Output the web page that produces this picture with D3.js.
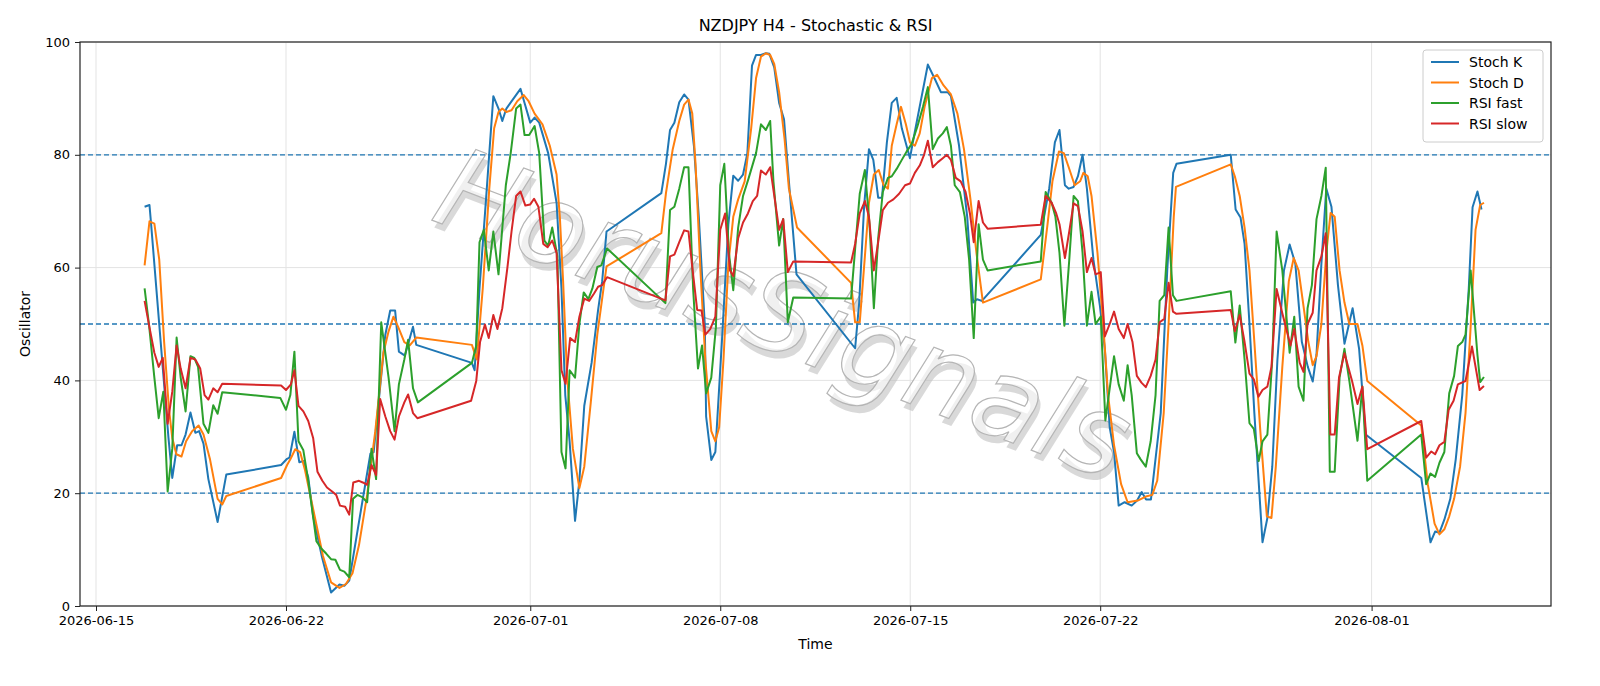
<!DOCTYPE html>
<html><head><meta charset="utf-8">
<script src="https://cdn.jsdelivr.net/npm/d3@7"></script>
<style>body{margin:0;background:#fff}svg{font-family:"DejaVu Sans",sans-serif}</style>
</head><body><svg id="c" width="1600" height="686"></svg>
<script>
// [days since 2026-06-15 00:00 UTC, value]
const stochK = [[1.79,70.8],[1.97,71.1],[2.03,67.7],[2.67,29.8],[2.81,22.7],[2.99,28.5],[3.15,28.5],[3.30,30.4],[3.48,34.3],[3.66,30.7],[3.80,31.0],[3.96,28.8],[4.14,22.5],[4.48,14.9],[4.80,23.3],[6.82,25.0],[7.04,26.1],[7.13,26.3],[7.31,30.9],[7.49,25.5],[7.64,25.7],[7.82,22.8],[8.00,15.9],[8.33,8.6],[8.66,2.4],[8.97,3.8],[9.15,3.6],[9.33,4.5],[9.81,18.4],[10.11,27.0],[10.23,27.3],[10.66,48.1],[10.84,52.4],[11.02,52.4],[11.16,45.1],[11.38,44.4],[11.68,49.5],[11.80,46.3],[13.85,43.1],[13.95,41.8],[14.13,56.3],[14.37,72.1],[14.64,90.4],[14.83,88.2],[14.97,86],[15.12,88.2],[15.64,91.7],[15.79,89.2],[16.0,85.7],[16.16,86.6],[16.33,85.7],[16.66,80.3],[16.97,71.5],[17.15,56.3],[17.29,37.4],[17.45,29.2],[17.65,15.1],[17.81,22.2],[17.99,35.5],[18.26,43.1],[18.50,52.5],[18.65,57.6],[18.81,66.4],[20.83,73.2],[21.0,78.4],[21.15,84.4],[21.31,85.7],[21.49,89.3],[21.67,90.7],[21.83,89.8],[22.03,81.6],[22.21,69],[22.43,50],[22.48,33.6],[22.67,25.9],[22.82,27.3],[23.06,46.8],[23.30,67.7],[23.48,76.3],[23.66,75.4],[23.84,76.5],[24.0,80.3],[24.17,95.8],[24.32,97.7],[24.50,97.7],[24.68,98],[24.81,97.9],[24.99,95.5],[25.17,89.2],[25.35,86.3],[25.53,75.3],[25.81,58.8],[27.97,45.7],[28.12,53.8],[28.30,70.8],[28.48,81],[28.64,79.1],[28.82,72.4],[28.96,72.4],[29.14,82.2],[29.32,89.2],[29.50,90.1],[29.69,84.7],[29.99,79.4],[30.17,84.1],[30.65,96],[30.92,93.3],[31.13,91.1],[31.38,91.1],[31.50,90.4],[31.80,81.6],[32.10,69],[32.32,53.8],[32.46,54.4],[32.64,54.1],[34.81,65.8],[35.12,74],[35.33,82.2],[35.50,84.4],[35.70,74.6],[35.84,74],[36.02,74.3],[36.18,76.2],[36.35,80],[36.51,74],[36.75,61.4],[36.99,53.2],[37.17,45.6],[37.35,31.7],[37.51,27.3],[37.68,17.8],[37.90,18.4],[38.16,17.8],[38.36,18.7],[38.53,20.2],[38.69,18.9],[38.87,18.9],[39.23,34.2],[39.47,59.5],[39.69,76.8],[39.81,78.4],[41.81,80],[41.99,70.3],[42.17,68.9],[42.32,64.2],[42.50,50],[42.68,34.2],[42.98,11.3],[43.16,15.6],[43.34,24.7],[43.53,43.7],[43.77,59.5],[43.98,64.1],[44.19,60.7],[44.43,46.8],[44.65,42.4],[44.83,39.8],[44.97,44.6],[45.15,60.7],[45.33,74],[45.52,70.8],[45.76,56.9],[46.0,46.5],[46.30,52.8],[46.54,45.6],[46.78,30.4],[48.83,22.7],[49.17,11.3],[49.34,13.2],[49.50,13],[49.68,15.3],[49.90,19],[50.10,26],[50.34,37.4],[50.58,56.3],[50.72,70.7],[50.9,73.5],[51.05,70.3]];
const stochD = [[1.79,60.4],[1.97,68.2],[2.15,67.8],[2.33,61.4],[2.51,46.8],[2.69,34.8],[2.81,29.8],[2.96,26.9],[3.15,26.5],[3.32,29.2],[3.54,31],[3.78,32],[3.96,30.4],[4.20,26],[4.48,19],[4.65,18],[4.80,19.5],[6.82,22.7],[7.04,25],[7.16,26],[7.34,27.8],[7.52,27.3],[7.70,24.1],[8.0,17.2],[8.36,8.9],[8.66,4.2],[8.97,3.2],[9.21,3.9],[9.45,5.8],[9.69,10.8],[9.99,19.7],[10.29,31],[10.59,44.9],[10.78,48.7],[10.96,51.3],[11.14,49.4],[11.36,46.8],[11.56,46.2],[11.80,47.6],[13.85,46.3],[14.03,43.7],[14.25,56.3],[14.49,74],[14.67,84.7],[14.83,87.6],[14.97,88.2],[15.12,87.6],[15.31,87.9],[15.52,89.5],[15.76,90.6],[15.94,89.5],[16.16,87.3],[16.45,85.4],[16.72,81.6],[16.97,76.5],[17.09,69],[17.21,57.6],[17.36,40.5],[17.57,27.9],[17.81,20.9],[17.99,24.7],[18.23,36.1],[18.47,48.1],[18.81,60.2],[20.83,66.1],[21.0,73.2],[21.25,81],[21.49,86],[21.67,88.9],[21.83,89.8],[21.97,87.3],[22.09,78.4],[22.27,59.5],[22.45,43.7],[22.67,31],[22.82,29.2],[22.96,31.7],[23.12,43.7],[23.30,60.7],[23.48,69],[23.66,72.1],[23.90,75.3],[24.14,84.7],[24.32,93.6],[24.50,97.4],[24.68,98],[24.84,97.7],[24.99,96.1],[25.17,91.1],[25.37,82.8],[25.53,74],[25.83,67.1],[27.82,57.3],[27.97,50.3],[28.14,50.3],[28.33,62],[28.48,71.5],[28.66,76.5],[28.84,77.3],[29.02,74.6],[29.18,74],[29.32,81.6],[29.50,85.4],[29.66,88.5],[29.84,85.4],[29.99,82.2],[30.17,81.6],[30.35,83.8],[30.53,88.5],[30.80,93.6],[30.99,94.2],[31.23,92.3],[31.50,90.7],[31.74,87.3],[31.98,81],[32.22,72.1],[32.44,62.6],[32.68,53.8],[34.81,57.9],[35.06,67.7],[35.24,75.3],[35.48,80.6],[35.66,80.3],[35.84,77.8],[36.06,74.6],[36.26,75.3],[36.38,76.8],[36.54,76.2],[36.68,72.7],[36.90,62.6],[37.11,50],[37.29,37.4],[37.51,28.5],[37.77,21.6],[38.01,18.4],[38.38,18.7],[38.68,19.4],[38.92,19.7],[39.10,22.2],[39.34,34.2],[39.52,50],[39.71,69],[39.79,74.3],[41.81,78.3],[41.96,76.2],[42.14,72.7],[42.32,67.1],[42.50,59.5],[42.68,46.8],[42.90,31],[43.14,15.9],[43.31,15.6],[43.47,24.7],[43.71,42.4],[43.95,57.6],[44.13,61.7],[44.31,59.5],[44.49,53.2],[44.67,46.8],[44.83,42.7],[44.97,44.3],[45.15,50],[45.33,62.6],[45.49,69.7],[45.64,69],[45.82,59.5],[46.0,53.8],[46.18,50],[46.48,50],[46.66,46.2],[46.84,39.9],[48.83,32],[49.07,21.6],[49.32,14.6],[49.50,12.7],[49.68,13.6],[49.86,15.9],[50.04,19],[50.26,24.7],[50.46,34.2],[50.64,48.7],[50.83,66.7],[51.0,71.1],[51.14,71.5]];
const rsiFast = [[1.79,56.3],[1.95,50],[2.15,40.5],[2.31,33.3],[2.48,38],[2.64,20.3],[2.81,27.9],[2.97,47.6],[3.12,40.5],[3.30,34.5],[3.48,44.3],[3.62,44],[3.76,42.4],[3.96,32.3],[4.14,30.7],[4.32,35.6],[4.48,34.1],[4.65,37.9],[6.79,36.9],[7.0,34.8],[7.16,37.4],[7.31,45.1],[7.46,29.2],[7.64,27.6],[7.82,22.2],[8.12,11.5],[8.30,10.2],[8.48,9.3],[8.66,8.3],[8.82,8.2],[8.99,6.4],[9.15,6.1],[9.33,5.1],[9.47,19],[9.63,19.7],[9.81,19.3],[9.99,18.4],[10.15,27.9],[10.32,22.5],[10.51,50.3],[10.78,40.5],[11.0,31],[11.16,39.3],[11.36,43.7],[11.50,47.2],[11.68,38.6],[11.86,36.1],[13.85,43.1],[14.01,46.2],[14.13,64.5],[14.29,66.7],[14.47,59.5],[14.64,66.4],[14.83,58.8],[15.10,74.6],[15.28,80.3],[15.48,88.2],[15.64,88.9],[15.79,83.5],[15.96,83.5],[16.16,85.1],[16.33,80.3],[16.52,64.8],[16.66,63.9],[16.81,67.1],[17.0,62],[17.15,27.3],[17.30,24.4],[17.45,41.8],[17.65,40.5],[17.81,50],[17.97,55.6],[18.14,54.4],[18.29,56.3],[18.47,60.1],[18.62,60.4],[18.83,63.4],[20.98,53.7],[21.15,70.2],[21.31,70.8],[21.49,74],[21.67,77.8],[21.83,77.8],[22.0,56.3],[22.18,42.1],[22.33,46.2],[22.48,37.7],[22.67,40.5],[22.84,49.4],[23.0,74.6],[23.15,78.4],[23.32,62.6],[23.48,56],[23.66,67.1],[23.84,72.7],[24.05,75.9],[24.32,80.3],[24.50,85.4],[24.68,84.4],[24.84,86],[24.96,75.3],[25.17,63.9],[25.32,68.6],[25.49,50.3],[25.69,54.7],[27.82,54.5],[27.97,63.3],[28.14,73.1],[28.33,77.3],[28.50,67.7],[28.66,52.8],[28.82,65.2],[28.99,73.4],[29.18,75.9],[29.32,76.2],[29.50,77.5],[29.69,79.1],[29.87,80.6],[30.05,81.9],[30.27,85.1],[30.47,88.5],[30.65,92],[30.83,81],[31.02,82.9],[31.20,83.8],[31.35,84.9],[31.50,81.6],[31.64,74.6],[31.83,73.4],[32.01,69],[32.17,61.4],[32.34,47.5],[32.52,67.7],[32.68,61.4],[32.85,59.5],[34.81,61.1],[34.99,73.4],[35.21,71.5],[35.35,69],[35.50,62.6],[35.68,49.7],[35.86,61.4],[36.02,72.7],[36.18,71.8],[36.35,62.6],[36.51,49.7],[36.68,55.7],[36.83,50],[37.02,51.3],[37.19,32.9],[37.35,38.6],[37.51,44.3],[37.68,39.3],[37.87,36.4],[38.01,42.7],[38.16,37.4],[38.35,27.1],[38.49,26],[38.68,24.7],[38.86,29.2],[39.04,37.4],[39.19,54.1],[39.36,55.1],[39.52,67.1],[39.68,55.1],[39.81,54.1],[41.81,55.8],[41.98,46.7],[42.14,53.3],[42.32,43.7],[42.50,32.4],[42.66,31.4],[42.84,25.7],[42.98,29.2],[43.16,30.4],[43.34,43.7],[43.50,66.4],[43.71,59.5],[43.98,44.9],[44.15,51.3],[44.31,38.9],[44.49,36.4],[44.64,52.8],[44.80,56.9],[44.97,68.6],[45.15,72.7],[45.31,77.7],[45.46,23.8],[45.64,23.8],[45.82,40.5],[46.0,45.6],[46.18,39.9],[46.48,29.3],[46.66,38.9],[46.84,22.2],[48.83,30.4],[49.01,21.6],[49.17,23.5],[49.34,22.9],[49.50,25.4],[49.68,27.3],[49.86,37.7],[50.04,40.8],[50.18,46.1],[50.34,46.8],[50.46,48.1],[50.65,59.5],[50.9,44.5],[51.0,39.7],[51.14,40.6]];
const rsiSlow = [[1.79,54.1],[1.97,49.4],[2.15,44.9],[2.31,42.4],[2.46,44],[2.64,32.3],[2.81,38],[2.97,46.2],[3.12,42.1],[3.30,38.6],[3.48,44],[3.66,43.7],[3.84,42.1],[4.0,37.4],[4.14,36.6],[4.32,38.6],[4.48,37.9],[4.65,39.4],[6.82,39.1],[7.0,38.3],[7.18,39.3],[7.31,41.8],[7.46,35.5],[7.64,34.5],[7.82,32.8],[8.0,29.8],[8.16,23.8],[8.34,22.2],[8.51,21],[8.70,20.3],[8.85,19.7],[8.99,17.8],[9.18,17.6],[9.33,16.2],[9.48,21.9],[9.69,22.2],[9.83,21.9],[9.99,21.5],[10.15,25],[10.32,23.2],[10.47,36.7],[10.66,33.6],[10.84,31],[11.0,29.5],[11.16,33.6],[11.36,36.1],[11.50,37.5],[11.68,34.2],[11.84,33.3],[13.82,36.4],[14.01,39.9],[14.15,46.8],[14.33,49.9],[14.47,47.5],[14.64,51.6],[14.79,49.1],[14.97,52.8],[15.16,60.1],[15.31,66.4],[15.48,72.7],[15.64,73.5],[15.82,71],[16.0,71.2],[16.14,72.2],[16.30,70.8],[16.48,64.2],[16.64,63.6],[16.81,64.8],[16.97,62.6],[17.15,41.8],[17.30,39.4],[17.47,47.5],[17.65,46.8],[17.81,51.3],[17.99,54.5],[18.17,54.1],[18.35,55.4],[18.50,56.6],[18.65,56.9],[18.83,58.3],[20.98,54.2],[21.15,62],[21.31,62.3],[21.49,64.5],[21.67,66.6],[21.83,66.4],[21.97,60.1],[22.15,52.5],[22.31,52.4],[22.45,48.1],[22.63,49.1],[22.82,51.3],[23.0,66.7],[23.18,69.6],[23.36,59.5],[23.48,58.5],[23.66,65.2],[23.84,68],[24.02,69.6],[24.20,71.8],[24.36,72.7],[24.50,77.2],[24.68,76.5],[24.84,77.8],[25.01,72.1],[25.17,66.7],[25.32,68.6],[25.49,59.2],[25.69,61.1],[27.82,60.9],[27.97,64.2],[28.14,69.6],[28.33,71.8],[28.48,69],[28.66,59.5],[28.82,64.5],[28.99,70.2],[29.18,71.5],[29.38,72.1],[29.59,73.1],[29.81,74.6],[29.99,74.9],[30.17,76.8],[30.35,78.1],[30.51,80],[30.65,82.5],[30.83,77.8],[31.02,78.7],[31.20,79.4],[31.35,80],[31.50,79.1],[31.68,75.9],[31.86,75.3],[32.04,73.4],[32.20,69.6],[32.34,64.5],[32.52,71.8],[32.68,68],[32.85,66.9],[34.81,67.6],[34.99,72.7],[35.21,71.5],[35.38,69.6],[35.50,67.7],[35.70,61.7],[35.86,66.4],[36.02,71.4],[36.18,70.9],[36.35,66.4],[36.51,59.2],[36.68,61.7],[36.83,58.8],[37.02,59.2],[37.17,47.8],[37.35,50],[37.51,52.2],[37.68,49.1],[37.87,47.5],[38.01,50],[38.19,46.8],[38.35,40.8],[38.52,39.6],[38.68,38.8],[38.86,40.8],[39.04,43.7],[39.19,50.3],[39.36,50.9],[39.52,57.3],[39.68,52.2],[39.81,51.8],[41.81,52.5],[41.96,48.7],[42.14,51.6],[42.32,46.8],[42.50,41.2],[42.66,40.2],[42.83,37.1],[42.98,38.3],[43.16,38.9],[43.31,42.4],[43.50,56.2],[43.71,51.9],[44.01,46.2],[44.15,49.1],[44.35,43.1],[44.49,41.5],[44.64,50],[44.83,52],[44.97,59.5],[45.15,62],[45.31,66.1],[45.48,30.4],[45.64,30.4],[45.80,40.5],[46.0,44.8],[46.28,39.9],[46.48,35.8],[46.66,38.9],[46.84,27.8],[48.83,32.8],[49.01,26.3],[49.20,27.4],[49.34,26.9],[49.50,28.5],[49.68,29.1],[49.84,34.8],[50.02,36.4],[50.18,39.3],[50.46,39.9],[50.7,46],[50.98,38.3],[51.14,39]];
const seriesNames = ["Stoch K","Stoch D","RSI fast","RSI slow"];
const seriesColors = ["#1f77b4","#ff7f0e","#2ca02c","#d62728"];
const levels = [20,50,80];
const xTickDates = ["2026-06-15","2026-06-22","2026-07-01","2026-07-08","2026-07-15","2026-07-22","2026-08-01"];
const yTicks = [0,20,40,60,80,100];

const base = Date.UTC(2026,5,15);
const toDate = d => new Date(base + d*86400000);
const svg = d3.select("#c");
const L=80,R=1551,T=42,B=606;
const x = d3.scaleUtc().domain([toDate(-0.59), toDate(53.61)]).range([L,R]);
const y = d3.scaleLinear().domain([0,100]).range([B,T]);
const xt = xTickDates.map(s=>new Date(s+"T00:00:00Z"));

svg.append("g").selectAll("line").data(xt).join("line")
 .attr("x1",d=>x(d)).attr("x2",d=>x(d)).attr("y1",T).attr("y2",B).attr("stroke","#e3e3e3");
svg.append("g").selectAll("line").data(yTicks).join("line")
 .attr("x1",L).attr("x2",R).attr("y1",d=>y(d)).attr("y2",d=>y(d)).attr("stroke","#e3e3e3");

// watermark
const wm = svg.append("g").attr("transform","translate(770,350) rotate(21)");
wm.append("text").attr("x",5).attr("y",6).attr("text-anchor","middle").attr("font-size",112)
 .attr("font-style","italic").attr("font-family","DejaVu Sans").attr("fill","#bbb").attr("opacity",0.55).text("HorusSignals");
wm.append("text").attr("text-anchor","middle").attr("font-size",112)
 .attr("font-style","italic").attr("font-family","DejaVu Sans").attr("fill","#fff").attr("fill-opacity",0.6)
 .attr("stroke","#b5b5b5").attr("stroke-width",1.2).text("HorusSignals");

svg.append("g").selectAll("line").data(levels).join("line")
 .attr("x1",L).attr("x2",R).attr("y1",d=>y(d)).attr("y2",d=>y(d))
 .attr("stroke","#1f77b4").attr("stroke-width",1.3).attr("stroke-dasharray","5,3");

const line = d3.line().x(d=>x(toDate(d[0]))).y(d=>y(d[1]));
[stochK,stochD,rsiFast,rsiSlow].forEach((s,i)=>{
  svg.append("path").datum(s).attr("d",line).attr("fill","none")
   .attr("stroke",seriesColors[i]).attr("stroke-width",2).attr("stroke-linejoin","round");
});

svg.append("rect").attr("x",L).attr("y",T).attr("width",R-L).attr("height",B-T)
 .attr("fill","none").attr("stroke","#222").attr("stroke-width",1.2);

const xa = svg.append("g").attr("transform",`translate(0,${B})`)
 .call(d3.axisBottom(x).tickValues(xt).tickFormat(d3.utcFormat("%Y-%m-%d")).tickSize(5).tickPadding(5));
const ya = svg.append("g").attr("transform",`translate(${L},0)`)
 .call(d3.axisLeft(y).tickValues(yTicks).tickSize(5).tickPadding(5));
[xa,ya].forEach(a=>{a.select(".domain").remove();a.selectAll("text").attr("font-size",13).attr("fill","#000").attr("font-family","DejaVu Sans");a.selectAll("line").attr("stroke","#222");});

svg.append("text").attr("x",(L+R)/2).attr("y",31).attr("text-anchor","middle").attr("font-size",16).text("NZDJPY H4 - Stochastic & RSI");
svg.append("text").attr("x",(L+R)/2).attr("y",649).attr("text-anchor","middle").attr("font-size",14).text("Time");
svg.append("text").attr("transform",`translate(30,${(T+B)/2}) rotate(-90)`).attr("text-anchor","middle").attr("font-size",14).text("Oscillator");

const lg = svg.append("g").attr("transform","translate(1423,50)");
lg.append("rect").attr("width",120).attr("height",92).attr("rx",3).attr("fill","#fff").attr("fill-opacity",0.85).attr("stroke","#ccc");
seriesNames.forEach((n,i)=>{
  const yy = 12+i*20.5;
  lg.append("line").attr("x1",8).attr("x2",36).attr("y1",yy).attr("y2",yy).attr("stroke",seriesColors[i]).attr("stroke-width",2);
  lg.append("text").attr("x",46).attr("y",yy+5).attr("font-size",14).text(n);
});
</script></body></html>
